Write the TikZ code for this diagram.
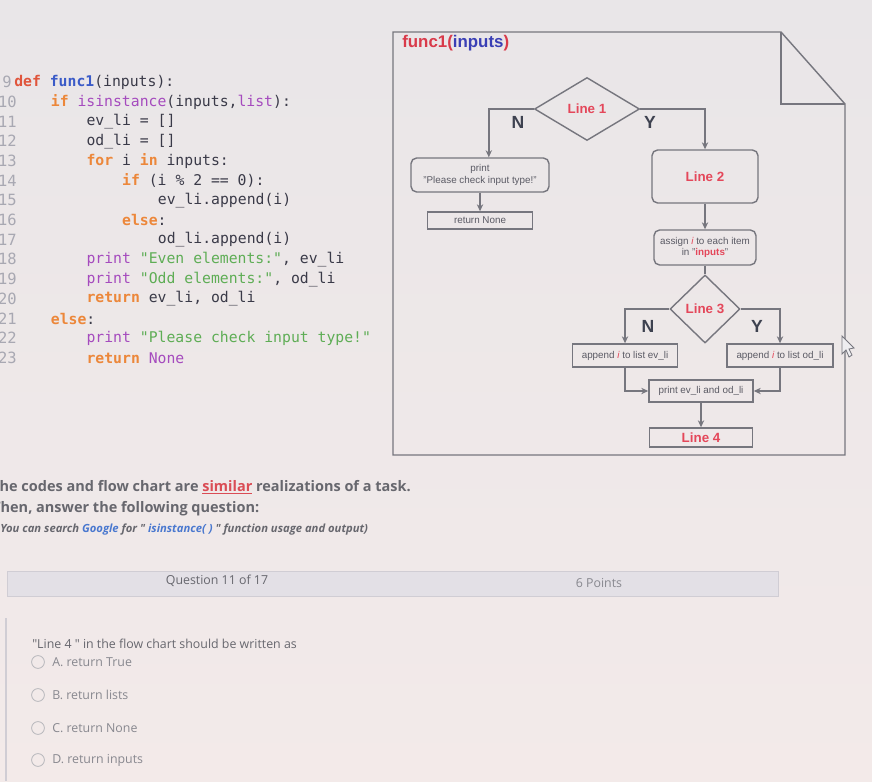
\documentclass[tikz,border=0pt]{standalone}
\usepackage{fontspec}
\setmainfont{Liberation Sans}
\newfontfamily\codefont{DejaVu Sans Mono}
\newfontfamily\uifont{Open Sans}
\usetikzlibrary{shapes.geometric,arrows.meta}

\definecolor{bgtop}{HTML}{E9E6E8}
\definecolor{bgmid}{HTML}{EEEDF0}
\definecolor{bgbot}{HTML}{F3EAE9}
\definecolor{kwdred}{HTML}{E0553C}
\definecolor{kwoorange}{HTML}{EC873A}
\definecolor{fncblue}{HTML}{3B5BC8}
\definecolor{bippurple}{HTML}{A54BBE}
\definecolor{strgreen}{HTML}{5EAD55}
\definecolor{codetext}{HTML}{3A3A48}
\definecolor{linenogray}{HTML}{A8A8B2}
\definecolor{chartline}{HTML}{76767E}
\definecolor{chartred}{HTML}{E4475A}
\definecolor{charttext}{HTML}{5A5A64}
\definecolor{chartdark}{HTML}{3E4250}
\definecolor{titlered}{HTML}{D93A4A}
\definecolor{titleblue}{HTML}{3A3FB5}
\definecolor{uitext}{HTML}{67676E}
\definecolor{uilight}{HTML}{88888F}
\definecolor{linkblue}{HTML}{4A78CF}
\definecolor{simred}{HTML}{DA4C55}
\definecolor{barfill}{HTML}{E3E0E6}
\definecolor{barline}{HTML}{D0CDD4}

\newcommand{\kwd}[1]{\textcolor{kwdred}{\bfseries #1}}
\newcommand{\kwo}[1]{\textcolor{kwoorange}{\bfseries #1}}
\newcommand{\fnc}[1]{\textcolor{fncblue}{\bfseries #1}}
\newcommand{\bip}[1]{\textcolor{bippurple}{#1}}
\newcommand{\strg}[1]{\textcolor{strgreen}{#1}}
\newcommand{\redi}{\textcolor{chartred}{\itshape i}}

\begin{document}
\begin{tikzpicture}[x=0.025cm,y=-0.025cm,
  code/.style={anchor=west, inner sep=0pt, font=\codefont\fontsize{10.5}{12}\selectfont, text=codetext},
  lineno/.style={anchor=east, inner sep=0pt, font=\codefont\fontsize{11}{12}\selectfont, text=linenogray},
  box/.style={draw=chartline, line width=1pt, rounded corners=4pt, inner sep=1pt, align=center,
    font=\fontsize{7}{8}\selectfont, text=charttext},
  plainbox/.style={box, rounded corners=0pt},
  redlabel/.style={font=\bfseries\fontsize{9.5}{11}\selectfont, text=chartred},
  decision/.style={diamond, draw=chartline, line width=1pt, inner sep=0pt, redlabel},
  branch/.style={font=\bfseries\fontsize{12.5}{14}\selectfont, text=chartdark},
  flow/.style={draw=chartline, line width=1pt, -{Stealth[length=5pt,width=4.5pt]}},
  ui/.style={anchor=west, inner sep=0pt, font=\uifont\fontsize{8.8}{10}\selectfont, text=uitext},
  radio/.style={circle, draw=uilight!60, line width=0.6pt, minimum size=0.32cm, inner sep=0pt}]
  \useasboundingbox (0,0) rectangle (872,781);
  \shade[top color=bgtop, middle color=bgmid, bottom color=bgbot] (0,0) rectangle (872,781);

  % code listing
  \node[lineno] (ln9) at (12,82) {9};
  \foreach \n [count=\k from 1] in {10,...,23}
    \node[lineno] (ln\n) at (17,{82+19.7*\k}) {\n};
  \node[code] (c9) at (14,82) {\kwd{def} \fnc{func1}(inputs):};
  \node[code] (c10) at (50.6,101.7) {\kwo{if} \bip{isinstance}(inputs,\bip{list}):};
  \node[code] (c11) at (86.3,121.4) {ev\_li = []};
  \node[code] (c12) at (86.3,141.1) {od\_li = []};
  \node[code] (c13) at (86.3,160.9) {\kwo{for} i \kwo{in} inputs:};
  \node[code] (c14) at (121.9,180.6) {\kwo{if} (i \% 2 == 0):};
  \node[code] (c15) at (157.6,200.3) {ev\_li.append(i)};
  \node[code] (c16) at (121.9,220) {\kwo{else}:};
  \node[code] (c17) at (157.6,239.7) {od\_li.append(i)};
  \node[code] (c18) at (86.3,259.4) {\bip{print} \strg{"Even elements:"}, ev\_li};
  \node[code] (c19) at (86.3,279.1) {\bip{print} \strg{"Odd elements:"}, od\_li};
  \node[code] (c20) at (86.3,298.9) {\kwo{return} ev\_li, od\_li};
  \node[code] (c21) at (50.6,318.6) {\kwo{else}:};
  \node[code] (c22) at (86.3,338.3) {\bip{print} \strg{"Please check input type!"}};
  \node[code] (c23) at (86.3,358) {\kwo{return} \bip{None}};

  % flow chart frame with folded corner
  \draw[chartline, line width=1pt] (393,32) -- (781,32) -- (845,104) -- (845,455) -- (393,455) -- cycle;
  \draw[chartline, line width=1pt] (781,32) -- (781,104) -- (845,104);
  \node[anchor=west, inner sep=0pt, font=\bfseries\fontsize{12}{13}\selectfont] (title) at (402,43)
    {\textcolor{titlered}{func1(}\textcolor{titleblue}{inputs}\textcolor{titlered}{)}};

  % flow chart
  \node[decision, minimum width=2.625cm, minimum height=1.575cm] (line1) at (587,109) {Line 1};
  \node[box, minimum width=3.45cm, minimum height=0.85cm] (chk) at (480,175) {print\\"Please check input type!"};
  \node[plainbox, minimum width=2.625cm, minimum height=0.425cm] (retnone) at (480,220.5) {return None};
  \node[box, redlabel, minimum width=2.65cm, minimum height=1.325cm] (line2) at (705,176.5) {Line 2};
  \node[box, minimum width=2.55cm, minimum height=0.875cm] (assign) at (705,247.5)
    {assign \redi{} to each item\\in "\textcolor{chartred}{\bfseries inputs}"};
  \node[decision, minimum width=1.75cm, minimum height=1.7cm] (line3) at (705,309) {Line 3};
  \node[plainbox, minimum width=2.625cm, minimum height=0.575cm] (apev) at (625,355.5) {append \redi{} to list ev\_li};
  \node[plainbox, minimum width=2.65cm, minimum height=0.575cm] (apod) at (780,355.5) {append \redi{} to list od\_li};
  \node[plainbox, minimum width=2.6cm, minimum height=0.55cm] (prlists) at (701,391) {print ev\_li and od\_li};
  \node[plainbox, redlabel, minimum width=2.575cm, minimum height=0.475cm] (line4) at (701,437.5) {Line 4};

  \draw[flow] (line1.west) -| ([xshift=0.22cm]chk.north);
  \draw[flow] (chk.south) -- (retnone.north);
  \draw[flow] (line1.east) -| (line2.north);
  \draw[flow] (line2.south) -- (assign.north);
  \draw[chartline, line width=1pt] (assign.south) -- (line3.north);
  \draw[flow] (line3.west) -| (apev.north);
  \draw[flow] (line3.east) -| (apod.north);
  \draw[flow] (apev.south) |- (prlists.west);
  \draw[flow] (apod.south) |- (prlists.east);
  \draw[flow] (prlists.south) -- (line4.north);

  \node[branch] (n1) at (518,122) {N};
  \node[branch] (y1) at (650,122) {Y};
  \node[branch] (n3) at (648,326) {N};
  \node[branch] (y3) at (757,326) {Y};

  % mouse pointer
  \draw[chartline, line width=0.6pt, fill=bgmid] (842,336) -- (842,354) -- (846,350) -- (849,357)
    -- (852,355) -- (849,349) -- (854,348) -- cycle;

  % question text
  \node[ui, font=\uifont\bfseries\fontsize{10.3}{12}\selectfont] (intro) at (-9,487)
    {The codes and flow chart are \textcolor{simred}{\underline{similar}} realizations of a task.};
  \node[ui, font=\uifont\bfseries\fontsize{10.3}{12}\selectfont] (then) at (-8,509) {Then, answer the following question:};
  \node[ui, font=\uifont\bfseries\itshape\fontsize{8}{9}\selectfont] (hint) at (0,530)
    {You can search \textcolor{linkblue}{Google} for " \textcolor{linkblue}{isinstance( )} " function usage and output)};

  \node[draw=barline, fill=barfill, line width=0.6pt, minimum width=19.25cm, minimum height=0.625cm] (qbar) at (393,583.5) {};
  \node[ui, anchor=center] (qnum) at (217,581) {Question 11 of 17};
  \node[ui, anchor=center, text=uilight] (qpts) at (599,583) {6 Points};

  \draw[barline, line width=1pt] (6,618) -- (6,781);
  \node[ui] (qtext) at (32,644) {"Line 4 " in the flow chart should be written as};
  \node[radio] (ra) at (38,662) {};
  \node[radio] (rb) at (38,695) {};
  \node[radio] (rc) at (38,728) {};
  \node[radio] (rd) at (38,760) {};
  \node[ui, text=uilight] (oa) at (52,662) {A. return True};
  \node[ui, text=uilight] (ob) at (52,695) {B. return lists};
  \node[ui, text=uilight] (oc) at (52,728) {C. return None};
  \node[ui, text=uilight] (od) at (52,760) {D. return inputs};
\end{tikzpicture}
\end{document}
